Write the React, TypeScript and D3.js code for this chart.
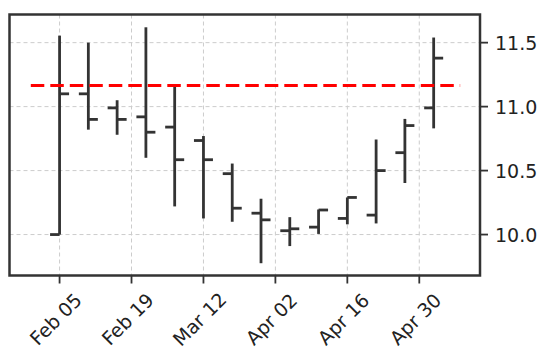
import React from "react";
import * as d3 from "d3";

// Weekly OHLC bars (index 0 = Feb 05)
const dates = ["Feb 05","Feb 12","Feb 19","Feb 26","Mar 05","Mar 12","Mar 19","Mar 26","Apr 02","Apr 09","Apr 16","Apr 23","Apr 30","May 07"];
const openVals  = [10.00, 11.10, 10.99, 10.92, 10.84, 10.735, 10.476, 10.167, 10.03, 10.058, 10.126, 10.152, 10.64, 10.99];
const highVals  = [11.555, 11.50, 11.05, 11.62, 11.16, 10.77, 10.555, 10.28, 10.136, 10.196, 10.29, 10.743, 10.904, 11.54];
const lowVals   = [10.00, 10.82, 10.78, 10.60, 10.22, 10.126, 10.10, 9.776, 9.91, 10.005, 10.08, 10.087, 10.403, 10.83];
const closeVals = [11.10, 10.90, 10.90, 10.80, 10.585, 10.585, 10.206, 10.115, 10.045, 10.192, 10.29, 10.50, 10.852, 11.379];

// x tick positions (bar index) and their labels
const xTickPos = [0, 2.5, 5, 7.5, 10, 12.5];
const xTickLabels = ["Feb 05", "Feb 19", "Mar 12", "Apr 02", "Apr 16", "Apr 30"];
const yTicks = [10.0, 10.5, 11.0, 11.5];

// reference (red dashed) line
const refLevel = 11.165;
const refStart = -1;
const refEnd = 13.92;

const W = 544, H = 352;
const L = 9.5, R = 480, T = 14.5, B = 275.5;

export default function App() {
  const x = d3.scaleLinear().domain([-1.74, 14.61]).range([L, R]);
  const y = d3.scaleLinear().domain([9.68, 11.72]).range([B, T]);
  const tickLen = 9.5;
  const dark = "#333333";
  const font = "'DejaVu Sans', sans-serif";

  return (
    <svg width={W} height={H} style={{ position: "absolute", left: 0, top: 0, background: "#fff" }}>
      {/* grid */}
      <g stroke="#cccccc" strokeWidth={1} strokeDasharray="4,3">
        {xTickPos.map((p, i) => (
          <line key={"gx" + i} x1={x(p)} x2={x(p)} y1={T} y2={B} />
        ))}
        {yTicks.map((v, i) => (
          <line key={"gy" + i} x1={L} x2={R} y1={y(v)} y2={y(v)} />
        ))}
      </g>
      {/* OHLC bars */}
      <g stroke={dark} strokeWidth={2.8} fill="none">
        {dates.map((d, i) => {
          const cx = x(i);
          return (
            <g key={d}>
              <line x1={cx} x2={cx} y1={y(highVals[i])} y2={y(lowVals[i])} />
              <line x1={cx - tickLen} x2={cx} y1={y(openVals[i])} y2={y(openVals[i])} />
              <line x1={cx} x2={cx + tickLen} y1={y(closeVals[i])} y2={y(closeVals[i])} />
            </g>
          );
        })}
      </g>
      {/* reference line */}
      <line x1={x(refStart)} x2={x(refEnd)} y1={y(refLevel)} y2={y(refLevel)}
        stroke="#ff0000" strokeWidth={2.8} strokeDasharray="13.5,6" />
      {/* spines */}
      <rect x={L} y={T} width={R - L} height={B - T} fill="none" stroke={dark} strokeWidth={2.5} />
      {/* y axis on right */}
      {yTicks.map((v, i) => (
        <g key={"yt" + i}>
          <line x1={R} x2={R + 8} y1={y(v)} y2={y(v)} stroke={dark} strokeWidth={1.8} />
          <text x={R + 15} y={y(v)} dominantBaseline="central" fontFamily={font} fontSize={19} fill="#222">
            {v.toFixed(1)}
          </text>
        </g>
      ))}
      {/* x axis */}
      {xTickPos.map((p, i) => {
        const tx = x(p);
        const cx = tx - 4;
        const cy = 319;
        return (
          <g key={"xt" + i}>
            <line x1={tx} x2={tx} y1={B} y2={B + 8} stroke={dark} strokeWidth={1.8} />
            <text x={cx} y={cy} textAnchor="middle" dominantBaseline="central"
              transform={`rotate(-45, ${cx}, ${cy})`} fontFamily={font} fontSize={19} fill="#222">
              {xTickLabels[i]}
            </text>
          </g>
        );
      })}
    </svg>
  );
}
